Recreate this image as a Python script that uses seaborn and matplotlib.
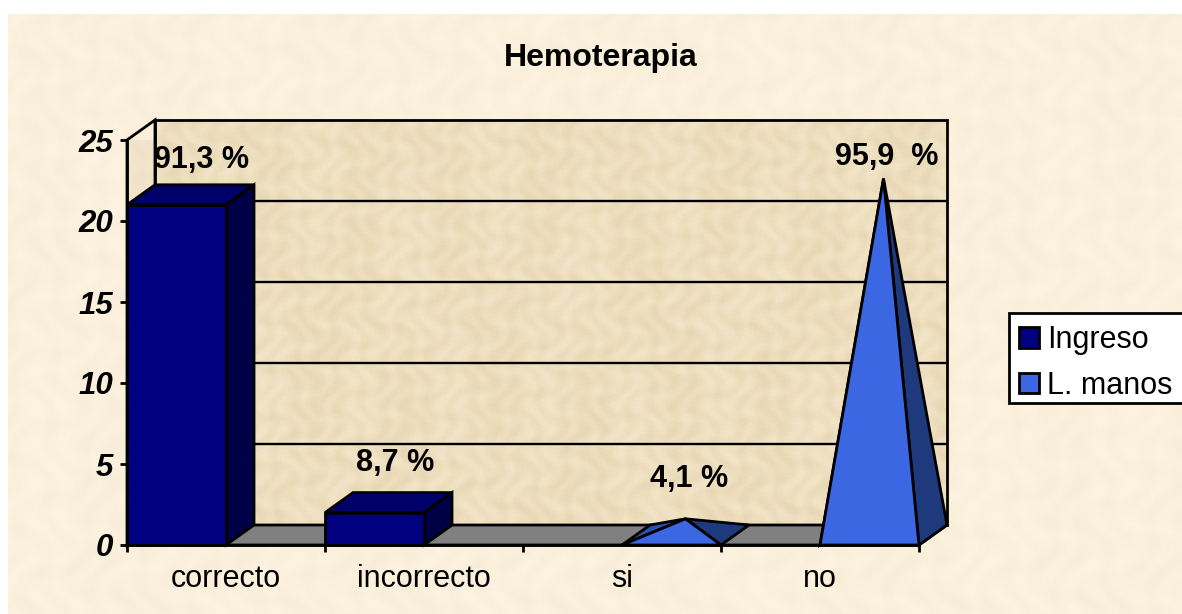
import numpy as np
import pandas as pd
import matplotlib.pyplot as plt
import seaborn as sns
from matplotlib.legend_handler import HandlerPatch
from matplotlib.patches import Patch, Polygon, Rectangle

# Chart data
categories = ['correcto', 'incorrecto', 'si', 'no']
ingreso = [21, 2, 0, 0]
l_manos = [0, 0, 1, 22]
series_names = ['Ingreso', 'L. manos']
y_ticks = [0, 5, 10, 15, 20, 25]
labels = ['91,3 %', '8,7 %', '4,1 %', '95,9  %']

# Label offset from the top of each mark, in points
label_offsets = [(18, 32.5), (15, 35.5), (12.5, 36), (12.5, 23)]

W, H = 1182, 614
AX_LEFT, AX_RIGHT, AX_TOP, AX_BOTTOM = 127, 919, 140, 545
# 3D depth of the plot box, in data units
DX = 28 / 198
DY = 20 / 16.2
LW = 2

NAVY = ['#000080', '#00006B', '#000047']
BLUE = ['#3B68E2', '#2B50AE', '#1F3A7C']

sns.set_theme(style='white')
plt.rcParams['font.family'] = ['Liberation Sans', 'DejaVu Sans']
plt.rcParams['text.color'] = 'black'


def paper(width, height, base, amount):
    # repeating parchment pattern, made of a few sine waves
    yy, xx = np.mgrid[0:height, 0:width]
    t = (np.sin(xx / 8.5 + 1.8 * np.sin(yy / 11.0)) * np.sin(yy / 12.5 + 1.8 * np.sin(xx / 14.0))
         + 0.3 * np.sin(xx / 2.3 + 2 * np.sin(yy / 3.1)) * np.sin(yy / 1.9 + 2 * np.sin(xx / 4.3)))
    base = np.array(base, dtype=float) / 255
    tint = np.array([1.0, 1.15, 1.7])
    img = base[None, None, :] + (amount * t)[:, :, None] * tint / 255
    return np.clip(img, 0, 1)


df = pd.DataFrame({
    'category': categories * 2,
    'series': [series_names[0]] * 4 + [series_names[1]] * 4,
    'value': ingreso + l_manos,
})

fig = plt.figure(figsize=(W / 100, H / 100), dpi=100, facecolor='white')

# cream area behind everything, with a white margin top and left
bg = fig.add_axes([0, 0, 1, 1], zorder=0)
bg.imshow(paper(W - 8, H - 14, (251, 240, 220), 2), extent=[8, W, H, 14], aspect='auto')
bg.set_xlim(0, W)
bg.set_ylim(H, 0)
bg.axis('off')

ax = fig.add_axes([AX_LEFT / W, 1 - AX_BOTTOM / H, (AX_RIGHT - AX_LEFT) / W, (AX_BOTTOM - AX_TOP) / H],
                  zorder=1)
ax.patch.set_alpha(0)

sns.barplot(data=df, x='category', y='value', hue='series', hue_order=series_names,
            palette=[NAVY[0], BLUE[0]], saturation=1, width=1.0, gap=0, ax=ax, legend=False,
            edgecolor='black', linewidth=LW, zorder=6)
ax.set_xlim(-0.5, len(categories) - 0.5)
ax.set_ylim(0, y_ticks[-1])
x0, x1 = ax.get_xlim()
top = y_ticks[-1]


def face(points, color, z, clip=False):
    p = Polygon(points, closed=True, facecolor=color, edgecolor='black', linewidth=LW,
                joinstyle='miter', clip_on=clip, zorder=z)
    ax.add_patch(p)
    return p


# back wall and left wall
ax.imshow(paper(W, H, (237, 222, 190), 5), extent=[x0 + DX, x1 + DX, DY, top + DY],
          aspect='auto', zorder=1, clip_on=False)
side = ax.imshow(paper(60, H, (241, 228, 203), 2), extent=[x0, x0 + DX, 0, top + DY],
                 aspect='auto', zorder=1)
side.set_clip_box(None)
side.set_clip_path(Polygon([(x0, 0), (x0 + DX, DY), (x0 + DX, top + DY), (x0, top)], transform=ax.transData))
ax.set_xlim(x0, x1)
ax.set_ylim(0, top)

face([(x0 + DX, DY), (x1 + DX, DY), (x1 + DX, top + DY), (x0 + DX, top + DY)], 'none', 2)
face([(x0, 0), (x0 + DX, DY), (x0 + DX, top + DY), (x0, top)], 'none', 2)
face([(x0, 0), (x1, 0), (x1 + DX, DY), (x0 + DX, DY)], '#808080', 3)

# gridlines sit on the back wall
for v in y_ticks[1:-1]:
    ax.plot([x0 + DX, x1 + DX], [v + DY, v + DY], color='black', lw=LW * 0.85, clip_on=False, zorder=2)

# turn the flat seaborn bars into boxes and pyramids
tops = []
for rect, v in zip(ax.containers[0], ingreso):
    if v <= 0:
        rect.set_visible(False)
        continue
    a, b = rect.get_x(), rect.get_x() + rect.get_width()
    rect.set_clip_on(False)
    face([(a, v), (b, v), (b + DX, v + DY), (a + DX, v + DY)], NAVY[1], 5)
    face([(b, 0), (b + DX, DY), (b + DX, v + DY), (b, v)], NAVY[2], 5)
    tops.append(((a + b) / 2, v))
for rect, v in zip(ax.containers[1], l_manos):
    rect.set_visible(False)
    if v <= 0:
        continue
    a, b = rect.get_x(), rect.get_x() + rect.get_width()
    apex = ((a + b + DX) / 2, v + DY / 2)
    face([(a, 0), (a + DX, DY), apex], BLUE[1], 5)
    face([(b, 0), (b + DX, DY), apex], BLUE[2], 5)
    face([(a, 0), (b, 0), apex], BLUE[0], 6)
    tops.append(((a + b) / 2, v))

for (cx, v), text, off in zip(tops, labels, label_offsets):
    ax.annotate(text, xy=(cx, v), xytext=off, textcoords='offset points', ha='center', va='center',
                fontsize=22, fontweight='bold', color='black', annotation_clip=False, zorder=8)

# axes
ax.set_xlabel('')
ax.set_ylabel('')
ax.set_yticks(y_ticks)
ax.set_yticklabels([str(v) for v in y_ticks], fontsize=22.5, fontweight='bold', fontstyle='italic')
ax.set_xticks(range(len(categories)))
ax.set_xticklabels(categories, fontsize=22)
ax.set_xticks(np.arange(x0, x1 + 0.5), minor=True)
ax.tick_params(axis='x', which='major', length=0, pad=14, labelcolor='black')
ax.tick_params(axis='x', which='minor', length=5, width=LW, color='black', bottom=True)
ax.tick_params(axis='y', which='major', length=5, width=LW, color='black', left=True, pad=5,
               labelcolor='black')
sns.despine(ax=ax, top=True, right=True)
for s in ['left', 'bottom']:
    ax.spines[s].set_color('black')
    ax.spines[s].set_linewidth(LW)
    ax.spines[s].set_zorder(7)

fig.text(601 / W, 1 - 58 / H, 'Hemoterapia', ha='center', va='center', fontsize=23,
         fontweight='bold', color='black', zorder=5)

# legend box runs off the right edge like in the original
fig.add_artist(Rectangle((1009 / W, 1 - 403 / H), 190 / W, 90 / H, transform=fig.transFigure,
                         facecolor='white', edgecolor='black', linewidth=LW, clip_on=False, zorder=4))
handles = [Patch(facecolor=NAVY[0], edgecolor='black', linewidth=LW, label=series_names[0]),
           Patch(facecolor=BLUE[0], edgecolor='black', linewidth=LW, label=series_names[1])]
leg = fig.legend(handles=handles, loc='center left', bbox_to_anchor=(1009 / W, 1 - 363 / H),
                 frameon=False, fontsize=22, handlelength=0.75, handleheight=0.65, handletextpad=0.26,
                 labelspacing=0.52, borderpad=0.233, borderaxespad=0, labelcolor='black',
                 handler_map={Patch: HandlerPatch(xpad=0.1)})
leg.set_zorder(5)

fig.savefig('out.png', dpi=100)
